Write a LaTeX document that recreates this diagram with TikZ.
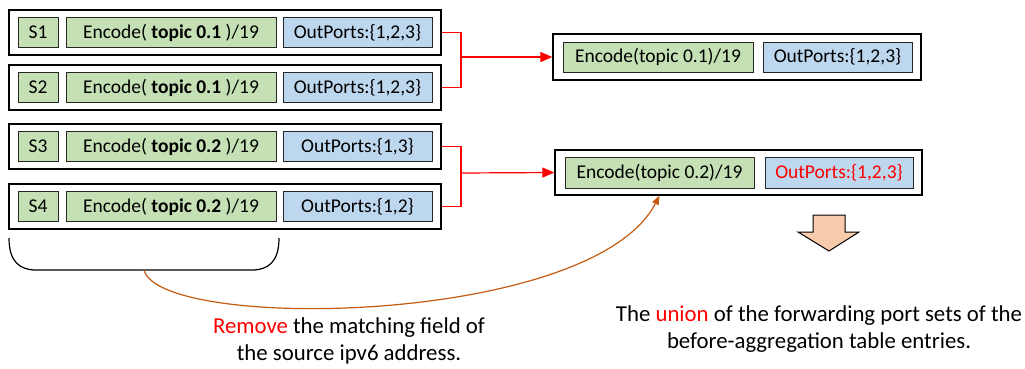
\documentclass[tikz,border=0pt]{standalone}
\usepackage{fontspec}
\setmainfont{Carlito}
\usetikzlibrary{arrows.meta}
\definecolor{cellgreen}{HTML}{C5E0B4}
\definecolor{cellblue}{HTML}{BDD7EE}
\definecolor{linkorange}{HTML}{C55A11}
\definecolor{arrowpeach}{HTML}{F8CBAD}
\begin{document}
\begin{tikzpicture}[x=1pt,y=-1pt,
  entry/.style={draw=black,line width=1.3pt,fill=white,inner sep=0pt},
  cell/.style={draw=black!85,line width=0.9pt,inner sep=0pt,minimum height=30pt,
    font=\fontsize{19.5}{22}\selectfont},
  gcell/.style={cell,fill=cellgreen},
  bcell/.style={cell,fill=cellblue},
  merge/.style={draw=red,line width=1.2pt},
  mergearrow/.style={merge,-{Triangle[length=12pt,width=10pt]}},
  note/.style={align=center,font=\fontsize{22.8}{27}\selectfont,inner sep=0pt}]
\useasboundingbox (0,0) rectangle (1025,369);

% before-aggregation entries
\foreach \r/\y/\t/\p in {1/32.5/0.1/{1,2,3},2/87.5/0.1/{1,2,3},3/146.5/0.2/{1,3},4/206.5/0.2/{1,2}}{
  \node[entry,minimum width=432pt,minimum height=45pt] (r\r) at (225,\y) {};
  \node[gcell,minimum width=40pt] (s\r) at (38,\y) {S\r};
  \node[gcell,minimum width=210pt] (e\r) at (171,\y) {Encode( \textbf{topic \t} )/19};
  \node[bcell,minimum width=149pt] (p\r) at (357.5,\y) {OutPorts:\{\p\}};
}

% aggregated entries
\node[entry,minimum width=368pt,minimum height=46pt] (t1) at (737,57) {};
\node[gcell,minimum width=190pt] (te1) at (658,57) {Encode(topic 0.1)/19};
\node[bcell,minimum width=149pt] (tp1) at (837.5,57) {OutPorts:\{1,2,3\}};

\node[entry,minimum width=367pt,minimum height=45pt] (t2) at (738.5,172.5) {};
\node[gcell,minimum width=189pt,minimum height=31pt] (te2) at (659.5,172.5) {Encode(topic 0.2)/19};
\node[bcell,minimum width=148pt,minimum height=31pt,text=red] (tp2) at (839,172.5) {OutPorts:\{1,2,3\}};

% merge connectors
\coordinate (j1) at (461,57);
\coordinate (j2) at (461,173);
\draw[merge] (r1.east) -| (j1);
\draw[merge] (r2.east) -| (j1);
\draw[mergearrow] (j1) -- (t1.west);
\draw[merge] (r3.east) -| (j2);
\draw[merge] (r4.east) -| (j2);
\draw[mergearrow] (j2) -- (t2.west);

% bracket under the source fields
\draw[line width=1.2pt] (9,238) .. controls (9,262) and (20,270) .. (36,270)
  -- (252,270) .. controls (268,270) and (279,262) .. (279,238);
\coordinate (bb) at (144,270);

% removal link, ending on the lower edge of the aggregated entry
\coordinate (tgt) at (te2.south |- t2.south);
\draw[linkorange,line width=1.2pt,-{Triangle[length=9pt,width=7pt]}]
  (bb) .. controls (160,332) and (592,326) .. (tgt);

% block arrow pointing down
\filldraw[draw=black,line width=1pt,fill=arrowpeach]
  (813,215) -- (845,215) -- (845,232) -- (859,232) -- (829,251) -- (798,232) -- (813,232) -- cycle;

% notes
\node[note] (n1) at (349,341) {\textcolor{red}{Remove} the matching field of\\the source ipv6 address.};
\node[note] (n2) at (819,329) {The \textcolor{red}{union} of the forwarding port sets of the\\before-aggregation table entries.};
\end{tikzpicture}
\end{document}
